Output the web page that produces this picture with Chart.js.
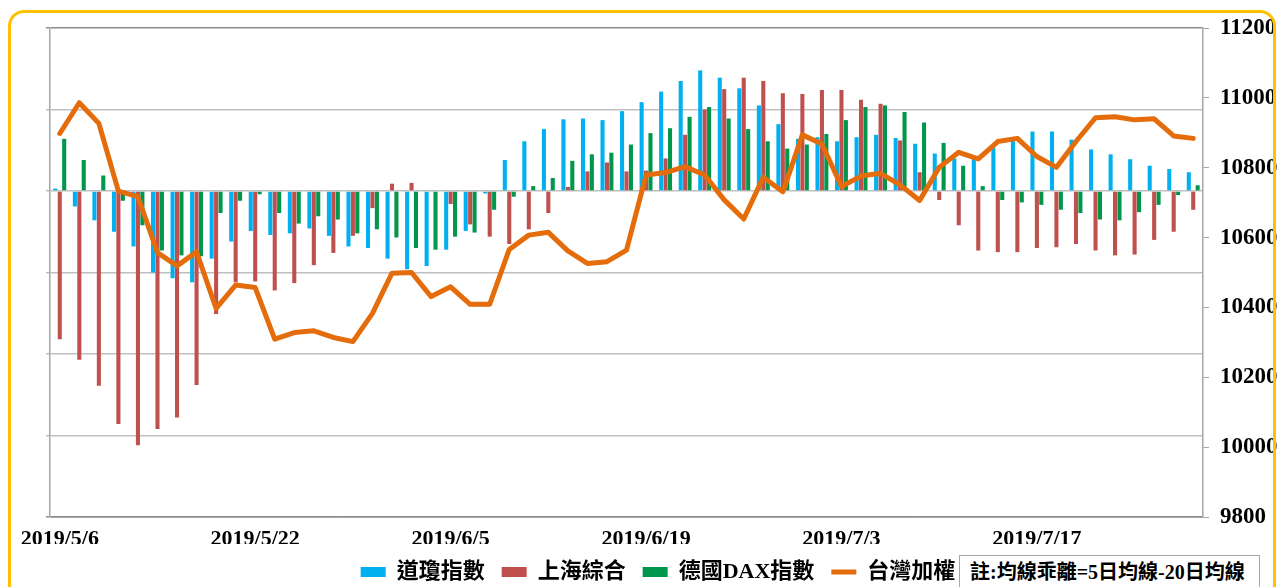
<!DOCTYPE html>
<html lang="zh-Hant">
<head>
    <meta charset="UTF-8">
    <title>均線乖離</title>
    <script src="https://cdn.jsdelivr.net/npm/chart.js"></script>
    <style>
        body {
            margin: 0;
            background: #fff;
            overflow: hidden;
        }
        .frame {
            position: absolute;
            left: 8px;
            top: 10px;
            width: 1268px;
            height: 620px;
            box-sizing: border-box;
            border: 3px solid #FFC000;
            border-radius: 16px;
            pointer-events: none;
            z-index: 2;
        }
        .chart-box {
            position: absolute;
            left: 0;
            top: 0;
            width: 1278px;
            height: 593px;
        }
        .note {
            position: absolute;
            left: 959px;
            top: 555px;
            width: 301px;
            height: 40px;
            box-sizing: border-box;
            border: 1px solid #a6a6a6;
            padding-left: 10px;
            line-height: 32px;
            font: bold 20px "Liberation Serif", "Noto Sans CJK TC", serif;
            color: #000;
            background: #fff;
            z-index: 1;
            white-space: nowrap;
        }
    </style>
</head>
<body>
    <div class="frame"></div>
    <div class="chart-box">
        <canvas id="biasChart"></canvas>
    </div>
    <div class="note">註:均線乖離=5日均線-20日均線</div>

    <script>
        // trading days (only every 10th is labelled)
        const dates = [
            '2019/5/6', '2019/5/7', '2019/5/8', '2019/5/9', '2019/5/10', '2019/5/13', '2019/5/14', '2019/5/15', '2019/5/16', '2019/5/17',
            '2019/5/22', '2019/5/23', '2019/5/24', '2019/5/27', '2019/5/28', '2019/5/29', '2019/5/30', '2019/5/31', '2019/6/3', '2019/6/4',
            '2019/6/5', '2019/6/6', '2019/6/7', '2019/6/10', '2019/6/11', '2019/6/12', '2019/6/13', '2019/6/14', '2019/6/17', '2019/6/18',
            '2019/6/19', '2019/6/20', '2019/6/21', '2019/6/24', '2019/6/25', '2019/6/26', '2019/6/27', '2019/6/28', '2019/7/1', '2019/7/2',
            '2019/7/3', '2019/7/4', '2019/7/5', '2019/7/8', '2019/7/9', '2019/7/10', '2019/7/11', '2019/7/12', '2019/7/15', '2019/7/16',
            '2019/7/17', '2019/7/18', '2019/7/19', '2019/7/22', '2019/7/23', '2019/7/24', '2019/7/25', '2019/7/26', '2019/7/29'
        ];

        // 均線乖離 (left axis)
        const dowBias = [
            0.03, -0.19, -0.36, -0.50, -0.68, -1.00, -1.07, -1.12, -0.83, -0.62,
            -0.49, -0.54, -0.52, -0.46, -0.55, -0.68, -0.70, -0.83, -0.96, -0.92,
            -0.72, -0.49, -0.03, 0.38, 0.61, 0.76, 0.88, 0.89, 0.87, 0.98,
            1.09, 1.22, 1.35, 1.48, 1.39, 1.26, 1.05, 0.82, 0.64, 0.66,
            0.61, 0.66, 0.69, 0.65, 0.58, 0.46, 0.40, 0.41, 0.53, 0.64,
            0.73, 0.73, 0.63, 0.51, 0.45, 0.39, 0.31, 0.27, 0.23
        ];
        const shanghaiBias = [
            -1.82, -2.07, -2.39, -2.86, -3.12, -2.92, -2.78, -2.38, -1.51, -1.12,
            -1.11, -1.22, -1.13, -0.91, -0.76, -0.55, -0.21, 0.09, 0.10, -0.01,
            -0.16, -0.41, -0.56, -0.65, -0.47, -0.27, 0.05, 0.24, 0.35, 0.24,
            0.25, 0.40, 0.69, 1.00, 1.25, 1.39, 1.35, 1.20, 1.19, 1.24,
            1.24, 1.12, 1.07, 0.62, 0.23, -0.11, -0.42, -0.73, -0.75, -0.75,
            -0.70, -0.69, -0.65, -0.73, -0.79, -0.78, -0.60, -0.50, -0.23
        ];
        const daxBias = [
            0.64, 0.38, 0.19, -0.12, -0.42, -0.73, -0.79, -0.80, -0.27, -0.12,
            -0.04, -0.27, -0.40, -0.31, -0.35, -0.52, -0.47, -0.57, -0.70, -0.72,
            -0.56, -0.51, -0.23, -0.07, 0.06, 0.16, 0.37, 0.45, 0.47, 0.57,
            0.71, 0.77, 0.91, 1.03, 0.89, 0.76, 0.61, 0.52, 0.57, 0.70,
            0.87, 1.03, 1.05, 0.97, 0.84, 0.59, 0.31, 0.06, -0.11, -0.14,
            -0.17, -0.23, -0.27, -0.35, -0.36, -0.26, -0.17, -0.05, 0.07
        ];

        // 台灣加權 (right axis)
        const taiex = [
            10898, 10986, 10927, 10733, 10717, 10557, 10519, 10559, 10397, 10464,
            10457, 10309, 10328, 10333, 10314, 10302, 10383, 10498, 10500, 10431,
            10459, 10409, 10409, 10566, 10607, 10615, 10562, 10526, 10531, 10564,
            10779, 10786, 10803, 10779, 10708, 10653, 10773, 10731, 10894, 10868,
            10746, 10776, 10784, 10751, 10706, 10801, 10844, 10825, 10875, 10884,
            10832, 10801, 10875, 10943, 10946, 10937, 10940, 10891, 10884
        ];

        const fontFamily = '"Liberation Serif", "Noto Sans CJK TC", serif';

        const ctx = document.getElementById('biasChart').getContext('2d');
        new Chart(ctx, {
            type: 'bar',
            data: {
                labels: dates,
                datasets: [
                    {
                        label: '道瓊指數',
                        data: dowBias,
                        backgroundColor: '#00B0F0',
                        yAxisID: 'y',
                        pointStyle: 'rect',
                        order: 1
                    },
                    {
                        label: '上海綜合',
                        data: shanghaiBias,
                        backgroundColor: '#C0504D',
                        yAxisID: 'y',
                        pointStyle: 'rect',
                        order: 1
                    },
                    {
                        label: '德國DAX指數',
                        data: daxBias,
                        backgroundColor: '#00964B',
                        yAxisID: 'y',
                        pointStyle: 'rect',
                        order: 1
                    },
                    {
                        type: 'line',
                        label: '台灣加權',
                        data: taiex,
                        borderColor: '#E46C0A',
                        backgroundColor: '#E46C0A',
                        borderWidth: 5,
                        borderCapStyle: 'round',
                        borderJoinStyle: 'round',
                        pointRadius: 0,
                        pointStyle: 'line',
                        tension: 0,
                        yAxisID: 'y1',
                        order: 0
                    }
                ]
            },
            options: {
                responsive: true,
                maintainAspectRatio: false,
                animation: false,
                datasets: {
                    bar: {
                        categoryPercentage: 0.68,
                        barPercentage: 0.92
                    }
                },
                layout: {
                    padding: { left: 38, right: 0, top: 28, bottom: 0 }
                },
                plugins: {
                    tooltip: { enabled: false },
                    legend: {
                        position: 'bottom',
                        labels: {
                            usePointStyle: true,
                            pointStyleWidth: 25,
                            boxHeight: 10,
                            padding: 17,
                            color: '#000',
                            font: { family: fontFamily, size: 22, weight: 'bold' },
                            sort: (a, b) => a.datasetIndex - b.datasetIndex
                        }
                    }
                },
                scales: {
                    x: {
                        grid: { display: false, drawTicks: false },
                        border: { display: true, color: '#a6a6a6' },
                        ticks: {
                            autoSkip: false,
                            maxRotation: 0,
                            padding: 9,
                            color: '#000',
                            font: { family: fontFamily, size: 22, weight: 'bold' },
                            callback: (value, index) => index % 10 === 0 ? dates[index] : ''
                        },
                        afterFit: (scale) => { scale.height = 27; }
                    },
                    y: {
                        position: 'left',
                        min: -4,
                        max: 2,
                        ticks: { stepSize: 1, display: false },
                        grid: {
                            color: (c) => (c.tick && (c.tick.value === 2 || c.tick.value === -4)) ? '#8c8c8c' : '#bfbfbf',
                            lineWidth: 1.5,
                            tickLength: 4
                        },
                        border: { display: true, color: '#a6a6a6', width: 1.5 },
                        afterFit: (scale) => { scale.width = 12; }
                    },
                    y1: {
                        position: 'right',
                        min: 9800,
                        max: 11200,
                        ticks: {
                            stepSize: 200,
                            padding: 11,
                            color: '#000',
                            font: { family: fontFamily, size: 23, weight: 'bold' },
                            callback: (value) => String(value)
                        },
                        grid: {
                            drawOnChartArea: false,
                            color: '#a6a6a6',
                            tickLength: 6
                        },
                        border: { display: true, color: '#a6a6a6', width: 1.5 },
                        afterFit: (scale) => { scale.width = 75; }
                    }
                }
            }
        });
    </script>
</body>
</html>
